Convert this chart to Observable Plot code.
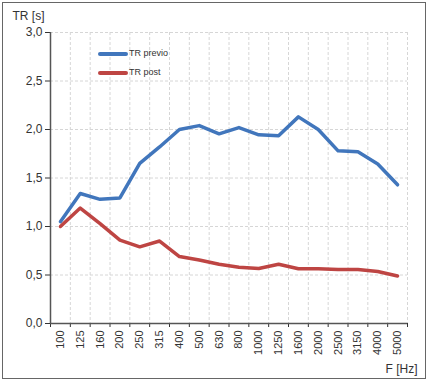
<!DOCTYPE html>
<html><head><meta charset="utf-8">
<script src="https://cdn.jsdelivr.net/npm/d3@7"></script>
<script src="https://cdn.jsdelivr.net/npm/@observablehq/plot@0.6"></script>
<style>
body{margin:0;background:#fff;font-family:"Liberation Sans",Arial,sans-serif}
#wrap{position:relative;width:430px;height:384px}
#border{position:absolute;left:2px;top:2px;width:422px;height:375px;border:1.5px solid #666;pointer-events:none}
#legend{position:absolute;left:98px;top:44px;font-size:9px;color:#333;line-height:19px}
.row{display:flex;align-items:center;height:19px}
.sw{display:inline-block;width:30px;height:4px;border-radius:2px;margin-right:1px}
</style></head>
<body>
<div id="wrap"><div id="border"></div>
<div id="legend"></div>
</div>
<script>
const freqs = ["100","125","160","200","250","315","400","500","630","800","1000","1250","1600","2000","2500","3150","4000","5000"];
const previo = [1.05,1.34,1.28,1.295,1.65,1.82,2.00,2.04,1.955,2.02,1.945,1.935,2.13,2.00,1.78,1.77,1.645,1.43];
const post = [1.00,1.19,1.03,0.86,0.79,0.85,0.69,0.655,0.61,0.58,0.567,0.61,0.565,0.565,0.557,0.557,0.536,0.49];
const yTicks = [0,0.5,1.0,1.5,2.0,2.5,3.0];
const seriesNames = ["TR previo","TR post"];
const colors = ["#4176bc","#be4543"];

const xDomain = [-0.5, freqs.length - 0.5];
const centers = freqs.map((f,i)=>i);
const bounds = freqs.map((f,i)=>i-0.5).concat([freqs.length-0.5]);
const rowsPrev = freqs.map((f,i)=>({i, v: previo[i]}));
const rowsPost = freqs.map((f,i)=>({i, v: post[i]}));
const fmt = d => d.toFixed(1).replace(".", ",");

const chart = Plot.plot({
  width: 430, height: 384,
  marginLeft: 50, marginRight: 23, marginTop: 32, marginBottom: 61,
  style: {fontFamily: "'Liberation Sans', Arial, sans-serif", fontSize: "12px", color: "#333", background: "transparent"},
  x: {type: "linear", domain: xDomain},
  y: {domain: [0, 3]},
  marks: [
    Plot.gridY(yTicks.slice(1), {stroke: "#d6d6d6", strokeOpacity: 1, strokeDasharray: "3,2"}),
    Plot.gridX(bounds.slice(1), {stroke: "#d6d6d6", strokeOpacity: 1, strokeDasharray: "3,2"}),
    Plot.axisY({ticks: yTicks, tickFormat: fmt, tickSize: 5, tickPadding: 3, fontSize: 12, label: null}),
    Plot.axisX({ticks: centers, tickFormat: i => freqs[i], tickSize: 0, tickRotate: -90, tickPadding: 7, fontSize: 11, label: null}),
    Plot.axisX({ticks: bounds, tickFormat: () => "", tickSize: 4, label: null}),
    Plot.ruleY([0], {stroke: "#555", strokeWidth: 1.5}),
    Plot.ruleX([xDomain[0]], {stroke: "#555", strokeWidth: 1.5}),
    Plot.line(rowsPrev, {x: "i", y: "v", stroke: colors[0], strokeWidth: 3.5}),
    Plot.line(rowsPost, {x: "i", y: "v", stroke: colors[1], strokeWidth: 3.5}),
    Plot.text(["TR [s]"], {text: d => d, frameAnchor: "top-left", dx: -38, dy: -16, textAnchor: "start", lineAnchor: "middle", fontSize: 12, fill: "#333"}),
    Plot.text(["F [Hz]"], {text: d => d, frameAnchor: "bottom-right", dx: 10, dy: 46, textAnchor: "end", lineAnchor: "middle", fontSize: 12, fill: "#333"})
  ]
});
const wrap = document.getElementById("wrap");
wrap.insertBefore(chart, wrap.firstChild);
const legend = document.getElementById("legend");
seriesNames.forEach((n,k)=>{
  const r = document.createElement("div"); r.className = "row";
  const s = document.createElement("span"); s.className = "sw"; s.style.background = colors[k];
  const t = document.createElement("span"); t.textContent = n;
  r.appendChild(s); r.appendChild(t); legend.appendChild(r);
});
</script>
</body></html>
